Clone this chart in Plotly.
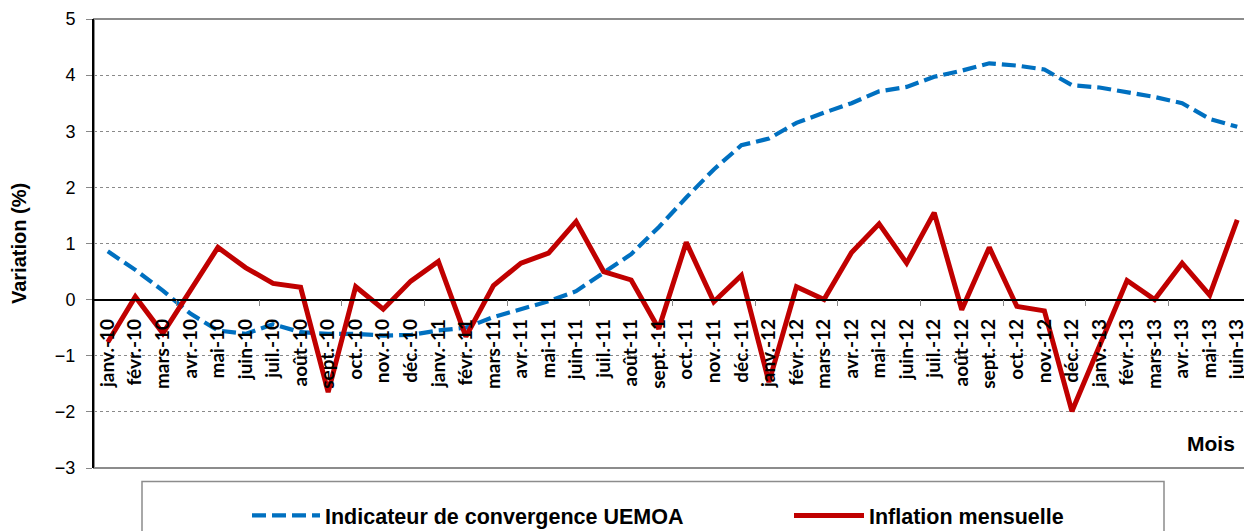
import plotly.graph_objects as go

months = [
    "janv.-10", "févr.-10", "mars-10", "avr.-10", "mai-10", "juin-10",
    "juil.-10", "août-10", "sept.-10", "oct.-10", "nov.-10", "déc.-10",
    "janv.-11", "févr.-11", "mars-11", "avr.-11", "mai-11", "juin-11",
    "juil.-11", "août-11", "sept.-11", "oct.-11", "nov.-11", "déc.-11",
    "janv.-12", "févr.-12", "mars-12", "avr.-12", "mai-12", "juin-12",
    "juil.-12", "août-12", "sept.-12", "oct.-12", "nov.-12", "déc.-12",
    "janv.-13", "févr.-13", "mars-13", "avr.-13", "mai-13", "juin-13",
]

indicateur = [
    0.86, 0.53, 0.16, -0.25, -0.55, -0.61, -0.44, -0.58, -0.61, -0.61, -0.64, -0.63,
    -0.55, -0.50, -0.31, -0.17, -0.03, 0.15, 0.49, 0.81, 1.29, 1.82, 2.32, 2.75,
    2.87, 3.15, 3.33, 3.50, 3.71, 3.79, 3.97, 4.08, 4.21, 4.17, 4.10, 3.82,
    3.78, 3.69, 3.61, 3.50, 3.22, 3.08,
]

inflation = [
    -0.76, 0.05, -0.60, 0.17, 0.93, 0.57, 0.29, 0.22, -1.65, 0.23, -0.17, 0.33,
    0.68, -0.66, 0.25, 0.65, 0.83, 1.39, 0.50, 0.35, -0.52, 1.02, -0.04, 0.43,
    -1.47, 0.23, 0.00, 0.84, 1.35, 0.65, 1.55, -0.18, 0.93, -0.12, -0.20, -1.99,
    -0.80, 0.34, 0.00, 0.65, 0.08, 1.42,
]

y_ticks = [-3, -2, -1, 0, 1, 2, 3, 4, 5]

idx = list(range(len(months)))

# page is offset by the browser's 8px body margin
W, H = 1244, 523
ML, MR, MT, MB = 86, 1, 11, 62.5
PW = W - ML - MR
PH = H - MT - MB


def px_x(page_x):
    return (page_x - 8 - ML) / PW


def px_y(page_y):
    return (H - MB - (page_y - 8)) / PH


LEG_FONT = dict(family="Liberation Sans, Arial, sans-serif", size=21.5, color="black", weight="bold")

fig = go.Figure()
fig.add_trace(go.Scatter(
    x=idx, y=indicateur, mode="lines", name="Indicateur de convergence UEMOA",
    line=dict(color="#0070C0", width=4.2, dash="14px,6px"), legend="legend",
))
fig.add_trace(go.Scatter(
    x=idx, y=inflation, mode="lines", name="Inflation mensuelle",
    line=dict(color="#C00000", width=5), legend="legend2",
))

ymin, ymax = y_ticks[0], y_ticks[-1]
zero_pos = (0 - ymin) / (ymax - ymin)

fig.update_layout(
    width=W, height=H,
    margin=dict(l=ML, r=MR, t=MT, b=MB, autoexpand=False),
    paper_bgcolor="white", plot_bgcolor="white",
    font=dict(family="Liberation Sans, Arial, sans-serif", color="black"),
    showlegend=True,
    legend=dict(
        orientation="h", x=px_x(247), xanchor="left",
        y=px_y(516), yanchor="middle",
        font=LEG_FONT, bgcolor="rgba(0,0,0,0)", itemwidth=68,
    ),
    legend2=dict(
        orientation="h", x=px_x(789), xanchor="left",
        y=px_y(516), yanchor="middle",
        font=LEG_FONT, bgcolor="rgba(0,0,0,0)", itemwidth=70,
    ),
    xaxis=dict(
        range=[-0.5, len(months) - 0.5],
        tickmode="array", tickvals=idx, ticktext=months,
        tickangle=-90, ticks="",
        tickfont=dict(family="Lato, sans-serif", size=19, color="black", weight="bold"),
        showline=True, linecolor="black", linewidth=1.5,
        showgrid=False, zeroline=False,
        anchor="free", position=zero_pos,
        ticklabelstandoff=11,
        minor=dict(
            tickmode="array",
            tickvals=[k - 0.5 for k in range(3, len(months), 3)],
            ticks="outside", ticklen=6, tickcolor="#888888", tickwidth=1,
            showgrid=False,
        ),
    ),
    yaxis=dict(
        range=[ymin, ymax], tickmode="array", tickvals=y_ticks,
        ticks="outside", ticklen=6, tickcolor="#888888",
        tickfont=dict(family="Liberation Sans, Arial, sans-serif", size=18, color="black"),
        ticklabelstandoff=7,
        showline=True, linecolor="black", linewidth=2,
        showgrid=True, gridcolor="#8a8a8a", griddash="dot", gridwidth=1,
        zeroline=False,
        title=dict(text="Variation (%)", standoff=24,
                   font=dict(family="Liberation Sans, Arial, sans-serif", size=20, color="black", weight="bold")),
    ),
    shapes=[
        dict(type="rect", xref="paper", yref="paper", x0=0, x1=1, y0=0, y1=1,
             line=dict(color="#8c8c8c", width=2), layer="below"),
        dict(type="rect", xref="paper", yref="paper",
             x0=px_x(142), x1=px_x(1164),
             y0=px_y(580), y1=px_y(482),
             line=dict(color="#8c8c8c", width=1.5), layer="below"),
    ],
    annotations=[
        dict(text="<b>Mois</b>", xref="paper", yref="paper",
             x=px_x(1211), y=px_y(444),
             showarrow=False, xanchor="center", yanchor="middle",
             font=dict(family="Liberation Sans, Arial, sans-serif", size=21, color="black")),
    ],
)

fig.write_html("out.html")
